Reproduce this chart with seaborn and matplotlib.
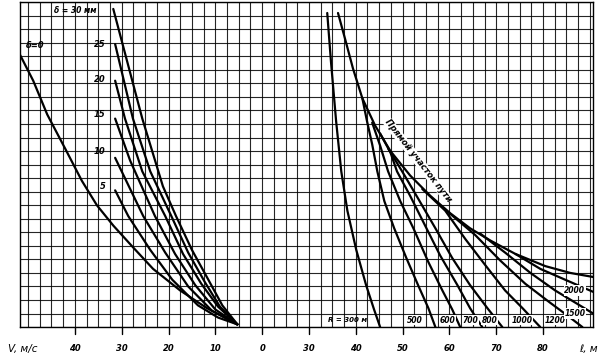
"""Nomogram: speed V vs. rail defect delta (left) and curve length vs. radius R (right)."""

import numpy as np
import matplotlib.pyplot as plt
import seaborn as sns

# ---- left family: V (m/s) for delta = 0..30 mm; y in grid rows ----
v_d0 = [51.7, 48.9, 45.9, 42.1, 38.5, 35.3, 31.8, 27.6, 23.3, 17.5, 11.8, 5.3]
y_d0 = [20.1, 18.2, 15.7, 13.2, 10.8, 9.0, 7.5, 5.9, 4.3, 2.7, 1.4, 0.2]
v_d5 = [31.4, 28.6, 23.9, 19.2, 13.7, 9.4, 5.3]
y_d5 = [10.1, 8.2, 5.7, 3.5, 1.6, 0.7, 0.2]
v_d10 = [31.4, 25.4, 20.7, 15.8, 10.7, 5.3]
y_d10 = [12.5, 8.2, 5.5, 3.0, 1.2, 0.2]
v_d15 = [31.4, 28.2, 22.9, 18.6, 14.3, 10.0, 5.3]
y_d15 = [15.4, 12.3, 8.2, 5.4, 3.1, 1.3, 0.2]
v_d20 = [31.4, 29.3, 25.6, 20.7, 16.9, 13.0, 9.4, 5.3]
y_d20 = [18.2, 15.4, 11.5, 8.2, 5.4, 3.2, 1.5, 0.2]
v_d25 = [31.4, 27.6, 23.9, 19.4, 15.8, 12.2, 9.0, 5.3]
y_d25 = [20.9, 15.4, 11.5, 8.2, 5.5, 3.3, 1.5, 0.2]
v_d30 = [31.8, 25.6, 21.2, 18.4, 15.0, 11.5, 8.5, 5.3]
y_d30 = [23.5, 15.4, 10.4, 8.2, 5.7, 3.5, 1.6, 0.2]

# ---- right family: length l (m) for radius R; straight-track envelope ----
l_env = [36.2, 37.7, 39.4, 41.4, 44.1, 47.4, 51.6, 55.9, 60.2, 64.4, 68.7, 74.1, 80.5, 85.8, 90.7]
y_env = [23.2, 21.3, 19.1, 16.9, 14.9, 13.0, 11.2, 9.7, 8.4, 7.3, 6.4, 5.4, 4.5, 4.0, 3.7]
l_r300 = [33.9, 34.7, 35.8, 36.9, 38.2, 40.1, 42.2, 43.9, 45.2]
y_r300 = [23.2, 19.6, 15.2, 11.5, 8.6, 5.7, 3.1, 1.3, 0.0]
l_r500 = [41.4, 42.4, 43.5, 44.6, 46.1, 48.2, 50.8, 53.3, 55.5, 57.0]
y_r500 = [16.9, 15.2, 13.5, 11.5, 9.3, 7.3, 5.1, 3.1, 1.4, 0.0]
l_r600 = [43.5, 45.2, 46.9, 49.5, 52.3, 55.5, 58.5, 60.6, 62.3]
y_r600 = [15.1, 13.4, 11.5, 9.3, 7.3, 4.8, 2.7, 1.3, 0.0]
l_r700 = [45.2, 47.4, 48.8, 51.6, 54.8, 58.0, 61.7, 64.4, 67.0]
y_r700 = [14.3, 12.9, 11.5, 9.7, 7.5, 5.3, 3.1, 1.4, 0.0]
l_r800 = [46.9, 49.9, 53.3, 57.0, 60.6, 64.4, 68.1, 71.3]
y_r800 = [13.2, 11.5, 9.5, 7.3, 5.1, 3.1, 1.4, 0.0]
l_r1000 = [54.2, 59.1, 63.4, 67.6, 71.9, 75.6, 79.4]
y_r1000 = [10.2, 8.6, 6.5, 4.6, 2.7, 1.4, 0.0]
l_r1200 = [59.7, 65.5, 70.9, 76.2, 81.5, 85.4, 88.4]
y_r1200 = [8.5, 6.8, 4.9, 3.2, 1.8, 0.8, 0.0]
l_r1500 = [66.6, 71.9, 77.3, 82.6, 86.9, 90.7]
y_r1500 = [6.9, 5.5, 4.0, 2.7, 1.8, 1.0]
l_r2000 = [74.1, 79.4, 84.7, 90.7]
y_r2000 = [5.4, 4.3, 3.5, 2.6]

left_curves = [(v_d0, y_d0), (v_d5, y_d5), (v_d10, y_d10), (v_d15, y_d15),
               (v_d20, y_d20), (v_d25, y_d25), (v_d30, y_d30)]
right_curves = [(l_env, y_env), (l_r300, y_r300), (l_r500, y_r500), (l_r600, y_r600),
                (l_r700, y_r700), (l_r800, y_r800), (l_r1000, y_r1000),
                (l_r1200, y_r1200), (l_r1500, y_r1500), (l_r2000, y_r2000)]

v_ticks = [40, 30, 20, 10, 0]
l_ticks = [30, 40, 50, 60, 70, 80]

sns.set_theme(style="white")
plt.rcParams["font.family"] = ["DejaVu Sans"]

fig = plt.figure(figsize=(6.09, 3.61), dpi=100)
ax = fig.add_axes([0.033, 0.094, 0.941, 0.9])

# shared abscissa: u = -V on the left, u = l - 20 on the right
for v, y in left_curves:
    sns.lineplot(x=-np.array(v), y=y, ax=ax, color="black", lw=1.6, sort=False)
for l, y in right_curves:
    sns.lineplot(x=np.array(l) - 20, y=y, ax=ax, color="black", lw=1.6, sort=False)

ax.set_xlim(-51.7, 70.7)
ax.set_ylim(0, 24)
ax.set_xticks(np.arange(-50, 71, 2.5))
ax.set_yticks(np.arange(0, 25, 1))
ax.grid(True, color="black", lw=0.8, alpha=0.85)
ax.tick_params(labelbottom=False, labelleft=False, length=0)
for s in ax.spines.values():
    s.set_color("black")
    s.set_linewidth(1.0)

lab = dict(fontsize=6, fontstyle="italic", fontweight="bold", color="black")
# bottom scales
for v in v_ticks:
    ax.plot([-v, -v], [0, -0.5], color="black", lw=1, clip_on=False)
    ax.text(-v, -1.6, str(v), ha="center", va="center", **lab)
for l in l_ticks:
    ax.plot([l - 20, l - 20], [0, -0.5], color="black", lw=1, clip_on=False)
    ax.text(l - 20, -1.6, str(l), ha="center", va="center", **lab)
ax.text(-54.3, -1.6, "V, м/с", ha="left", va="center", fontsize=7.5,
        fontstyle="italic", color="black")
ax.text(67.8, -1.6, "ℓ, м", ha="left", va="center", fontsize=7.5,
        fontstyle="italic", color="black")

# delta labels
ax.text(-44.5, 23.4, "δ = 30 мм", ha="left", va="center", fontsize=5.5,
        fontstyle="italic", fontweight="bold", color="black")
ax.text(-50.5, 20.8, "δ=0", ha="left", va="center", **lab)
for d, yy in zip([25, 20, 15, 10, 5], [20.9, 18.3, 15.7, 13.0, 10.4]):
    ax.text(-33.5, yy, str(d), ha="right", va="center", **lab)

# radius labels
ax.text(14.0, 0.5, "R = 300 м", ha="left", va="center", fontsize=5,
        fontstyle="italic", fontweight="bold", color="black")
for r, xx, yy in zip(["500", "600", "700", "800", "1000", "1200", "1500", "2000"],
                     [32.5, 39.5, 44.5, 48.5, 55.5, 62.5, 66.8, 66.8],
                     [0.5, 0.5, 0.5, 0.5, 0.5, 0.5, 1.0, 2.7]):
    ax.text(xx, yy, r, ha="center", va="center", fontsize=5.5,
            fontstyle="italic", fontweight="bold", color="black",
            bbox=dict(facecolor="white", edgecolor="none", pad=0.5))
ax.text(33.3, 12.3, "Прямой участок пути", rotation=-52, ha="center", va="center",
        fontsize=6, fontstyle="italic", fontweight="bold", color="black",
        bbox=dict(facecolor="white", edgecolor="none", pad=0.3))

fig.savefig("out.png", dpi=100)
